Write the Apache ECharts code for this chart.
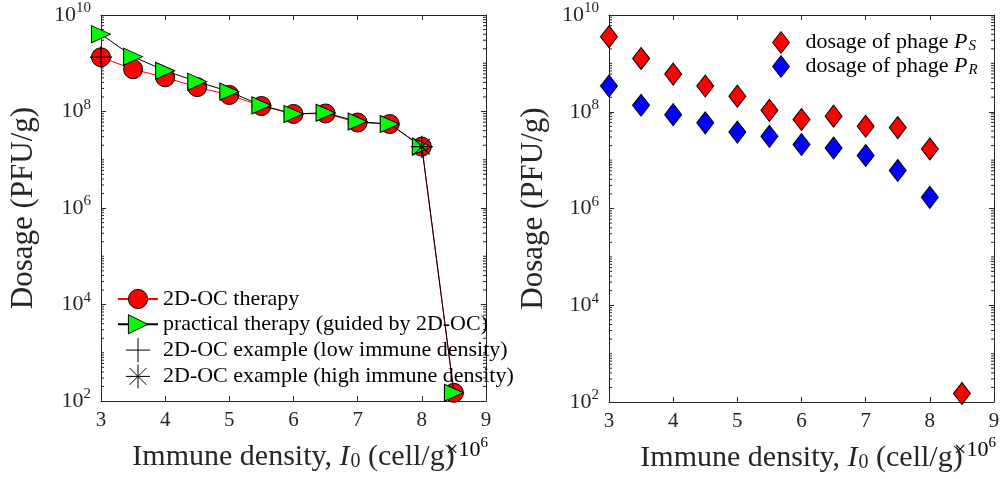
<!DOCTYPE html>
<html>
<head>
<meta charset="utf-8">
<script src="https://cdn.jsdelivr.net/npm/echarts@6/dist/echarts.min.js"></script>
<style>
  html, body { margin: 0; padding: 0; background: #fff; }
  #chart { width: 1004px; height: 479px; }
</style>
</head>
<body>
<div id="chart"></div>
<script>
// Immune density I0 (in units of 10^6 cell/g)
const immune = [3, 3.5, 4, 4.5, 5, 5.5, 6, 6.5, 7, 7.5, 8, 8.5];

// Left panel: total phage dosage (PFU/g)
const ocTherapy = [1.33e9, 7.5e8, 5.1e8, 3.2e8, 2.2e8, 1.3e8, 8.9e7, 9.1e7, 5.9e7, 5.5e7, 1.87e7, 148];
const practicalTherapy = [4.0e9, 1.37e9, 7.0e8, 4.15e8, 2.58e8, 1.34e8, 8.9e7, 9.4e7, 6.2e7, 5.5e7, 1.87e7, 148];
const lowDensityExample = [[3, 1.33e9]];
const highDensityExample = [[8, 1.87e7]];

// Right panel: dosage split per phage type
const doseS = [3.56e9, 1.26e9, 6.0e8, 3.4e8, 2.1e8, 1.07e8, 6.9e7, 8.1e7, 5.0e7, 4.7e7, 1.7e7, 150];
const doseR = [3.4e8, 1.36e8, 8.7e7, 5.9e7, 3.8e7, 3.1e7, 2.1e7, 1.78e7, 1.25e7, 6.1e6, 1.7e6];

// Axis ranges / ticks
const xRange = [3, 9];
const xTickStep = 1;
const yRange = [1e2, 1e10];
const yDecadeStep = 2;
const minorMultipliers = [2, 3, 4, 5, 6, 7, 8, 9];

const FONT = 'Liberation Serif';
const AX = '#262626';

function pairs(xs, ys) { return ys.map((y, i) => [xs[i], y]); }

const yRich = {
  b: { fontSize: 22, fontFamily: FONT, color: AX },
  s: { fontSize: 15, fontFamily: FONT, color: AX, padding: [0, 0, 13, 0] }
};

function xAxes(gi) {
  return [
    {
      type: 'value', gridIndex: gi, position: 'bottom', min: xRange[0], max: xRange[1], interval: xTickStep,
      axisLine: { show: true, lineStyle: { color: AX, width: 1 } },
      axisTick: { inside: true, length: 5, lineStyle: { color: AX } },
      splitLine: { show: false },
      axisLabel: { fontSize: 21, fontFamily: FONT, color: AX, margin: 9 },
      name: '{t|Immune density, }{i|I}{u|0}{t| (cell/g)}',
      nameLocation: 'middle', nameGap: 41,
      nameTextStyle: {
        rich: {
          t: { fontSize: 30, fontFamily: FONT, color: AX },
          i: { fontSize: 30, fontFamily: FONT, fontStyle: 'italic', color: AX },
          u: { fontSize: 20, fontFamily: FONT, color: AX, padding: [10, 0, 0, 1] }
        }
      }
    },
    {
      type: 'value', gridIndex: gi, position: 'top', min: xRange[0], max: xRange[1], interval: xTickStep,
      axisLine: { show: true, lineStyle: { color: AX, width: 1 } },
      axisTick: { inside: true, length: 5, lineStyle: { color: AX } },
      splitLine: { show: false }, axisLabel: { show: false }
    }
  ];
}

function yAxes(gi, nameGap) {
  return [
    {
      type: 'log', logBase: 10, gridIndex: gi, position: 'left', min: yRange[0], max: yRange[1], interval: yDecadeStep,
      axisLine: { show: true, lineStyle: { color: AX, width: 1 } },
      axisTick: { inside: true, length: 5, lineStyle: { color: AX } },
      splitLine: { show: false },
      axisLabel: {
        margin: 10,
        formatter: v => '{b|10}{s|' + Math.round(Math.log10(v)) + '}',
        rich: yRich
      },
      name: 'Dosage (PFU/g)', nameLocation: 'middle', nameGap: nameGap, nameRotate: 90,
      nameTextStyle: { fontSize: 31, fontFamily: FONT, color: AX }
    },
    {
      type: 'log', logBase: 10, gridIndex: gi, position: 'right', min: yRange[0], max: yRange[1], interval: yDecadeStep,
      axisLine: { show: true, lineStyle: { color: AX, width: 1 } },
      axisTick: { inside: true, length: 5, lineStyle: { color: AX } },
      splitLine: { show: false }, axisLabel: { show: false }
    }
  ];
}

// Minor log ticks (2..9 x 10^n, plus the odd decades) on both vertical edges
function minorTicks(xi, yi) {
  const ticks = [];
  for (let n = Math.log10(yRange[0]); n < Math.log10(yRange[1]); n++) {
    if (n % yDecadeStep !== 0) ticks.push([xRange[0], Math.pow(10, n)]);
    minorMultipliers.forEach(k => ticks.push([xRange[0], k * Math.pow(10, n)]));
  }
  return {
    type: 'custom', xAxisIndex: xi, yAxisIndex: yi, silent: true, clip: false, z: 1,
    data: ticks,
    renderItem(params, api) {
      const v = api.value(1);
      const a = api.coord([xRange[0], v]);
      const b = api.coord([xRange[1], v]);
      const L = 3;
      return {
        type: 'group',
        children: [
          { type: 'line', shape: { x1: a[0], y1: a[1], x2: a[0] + L, y2: a[1] }, style: { stroke: AX, lineWidth: 1 } },
          { type: 'line', shape: { x1: b[0], y1: b[1], x2: b[0] - L, y2: b[1] }, style: { stroke: AX, lineWidth: 1 } }
        ]
      };
    }
  };
}

const plusPath = 'path://M0,-10L0,10M-10,0L10,0';
const starPath = 'path://M0,-10L0,10M-10,0L10,0M-7.07,-7.07L7.07,7.07M-7.07,7.07L7.07,-7.07';

const timesTen = {
  m: { fontSize: 22, fontFamily: FONT, color: AX },
  s: { fontSize: 15, fontFamily: FONT, color: AX, padding: [0, 0, 13, 0] }
};

const option = {
  animation: false,
  backgroundColor: '#fff',
  grid: [
    { left: 101, top: 15, width: 385, height: 386 },
    { left: 609, top: 15, width: 385, height: 387 }
  ],
  xAxis: [...xAxes(0), ...xAxes(1)],
  yAxis: [...yAxes(0, 62), ...yAxes(1, 60)],
  legend: [
    {
      data: ['2D-OC therapy', 'practical therapy (guided by 2D-OC)', '2D-OC example (low immune density)', '2D-OC example (high immune density)'],
      orient: 'vertical', left: 117, top: 287, itemWidth: 40, itemHeight: 24, itemGap: 1.3, padding: 0,
      selectedMode: false,
      itemStyle: { borderWidth: 1, borderColor: '#000', opacity: 1 },
      textStyle: { fontSize: 22, fontFamily: FONT, color: '#000', lineHeight: 24 }
    },
    {
      data: ['dosage of phage P_S', 'dosage of phage P_R'],
      orient: 'vertical', left: 772, top: 31, itemWidth: 17, itemHeight: 22, itemGap: 1, padding: 0,
      selectedMode: false,
      itemStyle: { borderWidth: 1, borderColor: '#000', opacity: 1 },
      formatter: name => {
        const parts = name.split('_');
        return '{t|' + parts[0].slice(0, -1) + '}{i|P}{u|' + parts[1] + '}';
      },
      textStyle: {
        rich: {
          t: { fontSize: 22, fontFamily: FONT, color: '#000', padding: [0, 0, 0, 11] },
          i: { fontSize: 22, fontFamily: FONT, fontStyle: 'italic', color: '#000' },
          u: { fontSize: 15, fontFamily: FONT, fontStyle: 'italic', color: '#000', padding: [8, 0, 0, 1] }
        }
      }
    }
  ],
  graphic: [
    { type: 'text', right: 1004 - 488, top: 436, style: { text: '{m|×10}{s|6}', rich: timesTen } },
    { type: 'text', right: 1004 - 996, top: 436, style: { text: '{m|×10}{s|6}', rich: timesTen } }
  ],
  series: [
    minorTicks(0, 0),
    minorTicks(2, 2),
    {
      name: '2D-OC therapy', type: 'line', xAxisIndex: 0, yAxisIndex: 0, z: 3,
      data: pairs(immune, ocTherapy),
      lineStyle: { color: '#ff0000', width: 1 },
      symbol: 'circle', symbolSize: 19,
      itemStyle: { color: '#ff0000', borderColor: '#000', borderWidth: 1, opacity: 1 }
    },
    {
      name: 'practical therapy (guided by 2D-OC)', type: 'line', xAxisIndex: 0, yAxisIndex: 0, z: 4,
      data: pairs(immune, practicalTherapy),
      lineStyle: { color: '#000', width: 1 },
      symbol: 'triangle', symbolSize: [17, 19], symbolRotate: -90,
      itemStyle: { color: '#00ff00', borderColor: '#000', borderWidth: 1, opacity: 1 }
    },
    {
      name: '2D-OC example (low immune density)', type: 'scatter', xAxisIndex: 0, yAxisIndex: 0, z: 5,
      data: lowDensityExample,
      symbol: plusPath, symbolSize: 22, symbolKeepAspect: true,
      itemStyle: { color: 'rgba(0,0,0,0)', borderColor: '#000', borderWidth: 1.3, opacity: 1 }
    },
    {
      name: '2D-OC example (high immune density)', type: 'scatter', xAxisIndex: 0, yAxisIndex: 0, z: 6,
      data: highDensityExample,
      symbol: starPath, symbolSize: 22, symbolKeepAspect: true,
      itemStyle: { color: 'rgba(0,0,0,0)', borderColor: '#000', borderWidth: 1.3, opacity: 1 }
    },
    {
      name: 'dosage of phage P_S', type: 'scatter', xAxisIndex: 2, yAxisIndex: 2, z: 3,
      data: pairs(immune, doseS),
      symbol: 'diamond', symbolSize: [17, 22],
      itemStyle: { color: '#ff0000', borderColor: '#000', borderWidth: 1, opacity: 1 }
    },
    {
      name: 'dosage of phage P_R', type: 'scatter', xAxisIndex: 2, yAxisIndex: 2, z: 3,
      data: pairs(immune, doseR),
      symbol: 'diamond', symbolSize: [17, 22],
      itemStyle: { color: '#0000ff', borderColor: '#000', borderWidth: 1, opacity: 1 }
    }
  ]
};

const chart = echarts.init(document.getElementById('chart'), null, { renderer: 'canvas' });
chart.setOption(option);
</script>
</body>
</html>
